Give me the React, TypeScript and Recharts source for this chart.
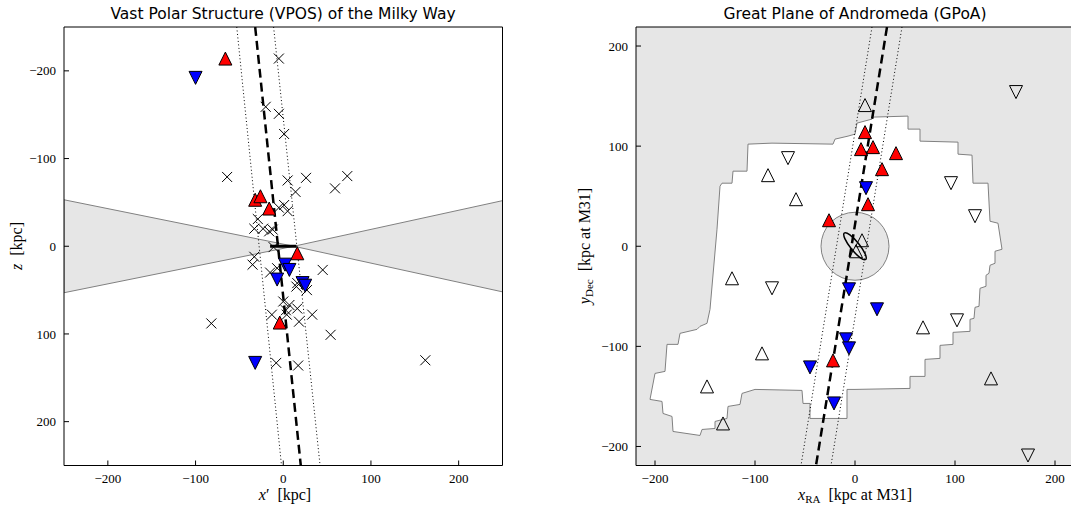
import React from 'react';
import {
  ComposedChart,
  Scatter,
  Line,
  Area,
  XAxis,
  YAxis,
  CartesianGrid,
} from 'recharts';

// ---------- Milky Way panel (x' vs z, kpc) ----------
const mwTicks = [-200, -100, 0, 100, 200];

// satellites on co-orbiting paths (red up triangles)
const mwCorotating = [
  { x: -66, y: -214 }, { x: -32, y: -53 }, { x: -26, y: -57 }, { x: -16, y: -43 },
  { x: 16, y: 8 }, { x: -4, y: 87 },
];

// satellites on counter-orbiting paths (blue down triangles)
const mwCounterRotating = [
  { x: -100, y: -192 }, { x: 2, y: 21 }, { x: 7, y: 27 }, { x: -7, y: 38 },
  { x: 22, y: 42 }, { x: 25, y: 45 }, { x: -32, y: 133 },
];

// satellites without proper motions (crosses)
const mwOthers = [
  { x: -5, y: -214 }, { x: -20, y: -159 }, { x: -5, y: -151 }, { x: 1, y: -128 },
  { x: -64, y: -79 }, { x: 5, y: -75 }, { x: 26, y: -78 }, { x: 73, y: -80 },
  { x: 59, y: -66 }, { x: 14, y: -62 }, { x: -5, y: -44 }, { x: 1, y: -47 },
  { x: 5, y: -40 }, { x: -29, y: -31 }, { x: -33, y: -20 }, { x: -23, y: -20 },
  { x: -16, y: -17 }, { x: -12, y: -19 }, { x: -11, y: 1 }, { x: -33, y: 12 },
  { x: -35, y: 21 }, { x: -15, y: 30 }, { x: -7, y: 25 }, { x: 45, y: 27 },
  { x: 15, y: 46 }, { x: 27, y: 50 }, { x: 16, y: 42 }, { x: 0, y: 63 },
  { x: 7, y: 67 }, { x: 16, y: 71 }, { x: 3, y: 73 }, { x: -13, y: 78 },
  { x: 4, y: 78 }, { x: 18, y: 86 }, { x: 33, y: 78 }, { x: 54, y: 101 },
  { x: -82, y: 88 }, { x: -8, y: 133 }, { x: 17, y: 136 }, { x: 162, y: 130 },
];

// best-fit plane and its rms height, seen edge-on
const mwPlane = [{ x: -32, y: -250 }, { x: 20, y: 250 }];
const mwPlaneEdgeA = [{ x: -53, y: -250 }, { x: -2, y: 250 }];
const mwPlaneEdgeB = [{ x: -11, y: -250 }, { x: 42, y: 250 }];

// Galactic disk
const mwDisk = [{ x: -15, y: 0 }, { x: 15, y: 0 }];

// zone of avoidance, seen from the Sun (closed outline)
const mwObscured = [
  { x: -250, y: -53 }, { x: 12, y: 0 }, { x: 250, y: 52 }, { x: 250, y: -52 },
  { x: 12, y: 0 }, { x: -250, y: 53 }, { x: -250, y: -53 },
];

// ---------- Andromeda panel (x_RA vs y_Dec, kpc at M31) ----------
const m31Ticks = [-200, -100, 0, 100, 200];

const m31Corotating = [
  { x: 10, y: 114 }, { x: 6, y: 97 }, { x: 18, y: 99 }, { x: 41, y: 93 },
  { x: 27, y: 77 }, { x: 13, y: 42 }, { x: -26, y: 26 }, { x: -22, y: -114 },
];

const m31CounterRotating = [
  { x: 11, y: 58 }, { x: -6, y: -43 }, { x: 22, y: -63 }, { x: -9, y: -93 },
  { x: -6, y: -102 }, { x: -45, y: -121 }, { x: -21, y: -157 },
];

const m31OffPlaneUp = [
  { x: 10, y: 141 }, { x: -87, y: 71 }, { x: -59, y: 47 }, { x: 7, y: 6 },
  { x: 1, y: -5 }, { x: -123, y: -32 }, { x: -93, y: -107 }, { x: -148, y: -140 },
  { x: -132, y: -177 }, { x: 68, y: -81 }, { x: 136, y: -132 },
];

const m31OffPlaneDown = [
  { x: -67, y: 88 }, { x: 96, y: 63 }, { x: 120, y: 30 }, { x: 161, y: 154 },
  { x: -83, y: -42 }, { x: 102, y: -74 }, { x: 173, y: -209 },
];

const m31Plane = [{ x: 32, y: 219 }, { x: -39, y: -219 }];
const m31PlaneEdgeA = [{ x: 17, y: 219 }, { x: -54, y: -219 }];
const m31PlaneEdgeB = [{ x: 47, y: 219 }, { x: -24, y: -219 }];

const m31Centre = [{ x: 0, y: 0 }];

// PAndAS survey footprint (closed outline)
const pandasFootprint = [
  { x: -107, y: 102 }, { x: -83, y: 103 }, { x: -22, y: 102 }, { x: -20, y: 107 },
  { x: -7, y: 110 }, { x: 0, y: 112 }, { x: 2, y: 123 }, { x: 17, y: 127 },
  { x: 18, y: 129 }, { x: 53, y: 130 }, { x: 53, y: 117 }, { x: 65, y: 117 },
  { x: 65, y: 105 }, { x: 103, y: 104 }, { x: 103, y: 92 }, { x: 117, y: 91 },
  { x: 118, y: 63 }, { x: 133, y: 63 }, { x: 135, y: 25 }, { x: 143, y: 23 },
  { x: 147, y: -3 }, { x: 140, y: -5 }, { x: 140, y: -17 }, { x: 135, y: -19 },
  { x: 134, y: -27 }, { x: 131, y: -29 }, { x: 131, y: -40 }, { x: 125, y: -42 },
  { x: 124, y: -60 }, { x: 120, y: -61 }, { x: 119, y: -72 }, { x: 115, y: -73 },
  { x: 115, y: -85 }, { x: 98, y: -86 }, { x: 98, y: -98 }, { x: 85, y: -99 },
  { x: 85, y: -112 }, { x: 70, y: -113 }, { x: 70, y: -130 }, { x: 55, y: -130 },
  { x: 55, y: -142 }, { x: 0, y: -143 }, { x: -8, y: -143 }, { x: -8, y: -172 },
  { x: -45, y: -172 }, { x: -45, y: -157 }, { x: -52, y: -157 }, { x: -53, y: -144 },
  { x: -100, y: -143 }, { x: -113, y: -147 }, { x: -115, y: -158 }, { x: -127, y: -160 },
  { x: -128, y: -172 }, { x: -140, y: -175 }, { x: -140, y: -182 }, { x: -153, y: -183 },
  { x: -155, y: -189 }, { x: -182, y: -185 }, { x: -183, y: -170 }, { x: -192, y: -167 },
  { x: -193, y: -155 }, { x: -205, y: -153 }, { x: -200, y: -127 }, { x: -190, y: -125 },
  { x: -188, y: -98 }, { x: -177, y: -98 }, { x: -175, y: -87 }, { x: -158, y: -83 },
  { x: -155, y: -80 }, { x: -148, y: -77 }, { x: -145, y: -63 }, { x: -138, y: 17 },
  { x: -135, y: 60 }, { x: -133, y: 63 }, { x: -123, y: 63 }, { x: -122, y: 75 },
  { x: -108, y: 75 }, { x: -107, y: 102 },
];

// ---------- shared styling ----------
const GREY = '#e6e6e6';
const EDGE = '#808080';
const serif = '"Liberation Serif", "DejaVu Serif", serif';
const tickStyle = { fontFamily: serif, fontSize: 13, fill: '#000' };
const fmt = (v: number) => String(v).replace('-', '\u2212');

const HALF = 6.5;

const TriUp = ({ cx, cy, fill }: any) => (
  <path
    d={`M${cx},${cy - HALF}L${cx - HALF},${cy + HALF}L${cx + HALF},${cy + HALF}Z`}
    fill={fill}
    stroke="#000"
    strokeWidth={1}
  />
);

const TriDown = ({ cx, cy, fill }: any) => (
  <path
    d={`M${cx},${cy + HALF}L${cx - HALF},${cy - HALF}L${cx + HALF},${cy - HALF}Z`}
    fill={fill}
    stroke="#000"
    strokeWidth={1}
  />
);

const Cross = ({ cx, cy }: any) => (
  <path
    d={`M${cx - 5},${cy - 5}L${cx + 5},${cy + 5}M${cx - 5},${cy + 5}L${cx + 5},${cy - 5}`}
    stroke="#000"
    strokeWidth={1}
    fill="none"
  />
);

// grey 35 kpc disc around M31 (radius in px, 1 kpc = 1 px here)
const M31Halo = ({ cx, cy }: any) => (
  <circle cx={cx} cy={cy} r={34} fill={GREY} stroke={EDGE} strokeWidth={1} />
);

const M31Disk = ({ cx, cy }: any) => (
  <ellipse
    cx={cx}
    cy={cy}
    rx={17}
    ry={4.5}
    transform={`rotate(51 ${cx} ${cy})`}
    fill="none"
    stroke="#000"
    strokeWidth={1.5}
  />
);

const noDot = () => <g />;
const dotted = { stroke: '#000', strokeWidth: 1, strokeDasharray: '1 2.5', fill: 'none' };
const dashed = { stroke: '#000', strokeWidth: 2.5, strokeDasharray: '9 5', fill: 'none' };

function frameAxes(domain: [number, number], ticks: number[], reversedY: boolean, yWidth: number) {
  return [
    <XAxis
      key="xb"
      dataKey="x"
      type="number"
      domain={domain}
      ticks={ticks}
      allowDataOverflow
      height={40}
      stroke="#000"
      tickSize={-5}
      tickMargin={13}
      tick={tickStyle}
      tickFormatter={fmt}
    />,
    <XAxis
      key="xt"
      xAxisId="top"
      orientation="top"
      dataKey="x"
      type="number"
      domain={domain}
      ticks={ticks}
      allowDataOverflow
      height={1}
      stroke="#000"
      tickSize={-5}
      tick={false}
    />,
    <YAxis
      key="yl"
      dataKey="y"
      type="number"
      domain={domain}
      ticks={ticks}
      reversed={reversedY}
      allowDataOverflow
      width={yWidth}
      stroke="#000"
      tickSize={-5}
      tickMargin={13}
      tick={tickStyle}
      tickFormatter={fmt}
    />,
    <YAxis
      key="yr"
      yAxisId="right"
      orientation="right"
      dataKey="y"
      type="number"
      domain={domain}
      ticks={ticks}
      reversed={reversedY}
      allowDataOverflow
      width={1}
      stroke="#000"
      tickSize={-5}
      tick={false}
    />,
  ];
}

function MilkyWayPanel() {
  return (
    <ComposedChart width={540} height={507} margin={{ top: 26, right: 36.5, bottom: 1.5, left: 24 }}>
      <Area
        data={mwObscured}
        dataKey="y"
        type="linear"
        fill={GREY}
        fillOpacity={1}
        stroke={EDGE}
        strokeWidth={1}
        isAnimationActive={false}
      />
      <Line data={mwPlaneEdgeA} dataKey="y" {...dotted} dot={false} isAnimationActive={false} />
      <Line data={mwPlaneEdgeB} dataKey="y" {...dotted} dot={false} isAnimationActive={false} />
      <Line data={mwPlane} dataKey="y" {...dashed} dot={false} isAnimationActive={false} />
      <Line data={mwDisk} dataKey="y" stroke="#000" strokeWidth={3} dot={false} isAnimationActive={false} />
      <Scatter
        data={mwOthers}
        xAxisId="top"
        yAxisId="right"
        shape={(p: any) => <Cross cx={p.cx} cy={p.cy} />}
        isAnimationActive={false}
      />
      <Scatter data={mwCorotating} shape={(p: any) => <TriUp cx={p.cx} cy={p.cy} fill="#ff0000" />} isAnimationActive={false} />
      <Scatter data={mwCounterRotating} shape={(p: any) => <TriDown cx={p.cx} cy={p.cy} fill="#0000ff" />} isAnimationActive={false} />
      {frameAxes([-250, 250], mwTicks, true, 40)}
    </ComposedChart>
  );
}

function AndromedaPanel() {
  return (
    <ComposedChart width={540} height={507} margin={{ top: 26, right: 25, bottom: 1.5, left: 26 }}>
      <CartesianGrid fill={GREY} fillOpacity={1} horizontal={false} vertical={false} stroke="none" />
      <Area
        data={pandasFootprint}
        dataKey="y"
        type="linear"
        fill="#ffffff"
        fillOpacity={1}
        stroke={EDGE}
        strokeWidth={1}
        isAnimationActive={false}
      />
      <Scatter data={m31Centre} shape={(p: any) => <M31Halo cx={p.cx} cy={p.cy} />} isAnimationActive={false} />
      <Scatter data={m31PlaneEdgeA} line={dotted} lineType="joint" shape={noDot} isAnimationActive={false} />
      <Scatter data={m31PlaneEdgeB} line={dotted} lineType="joint" shape={noDot} isAnimationActive={false} />
      <Scatter data={m31Plane} line={dashed} lineType="joint" shape={noDot} isAnimationActive={false} />
      <Scatter data={m31Centre} shape={(p: any) => <M31Disk cx={p.cx} cy={p.cy} />} isAnimationActive={false} />
      <Scatter
        data={m31OffPlaneUp}
        xAxisId="top"
        yAxisId="right"
        shape={(p: any) => <TriUp cx={p.cx} cy={p.cy} fill="none" />}
        isAnimationActive={false}
      />
      <Scatter data={m31OffPlaneDown} shape={(p: any) => <TriDown cx={p.cx} cy={p.cy} fill="none" />} isAnimationActive={false} />
      <Scatter data={m31Corotating} shape={(p: any) => <TriUp cx={p.cx} cy={p.cy} fill="#ff0000" />} isAnimationActive={false} />
      <Scatter data={m31CounterRotating} shape={(p: any) => <TriDown cx={p.cx} cy={p.cy} fill="#0000ff" />} isAnimationActive={false} />
      {frameAxes([-219, 219], m31Ticks, false, 50)}
    </ComposedChart>
  );
}

export default function App() {
  const titleFont = { fontFamily: '"DejaVu Sans", sans-serif', fontSize: 15.5 };
  const labelFont = { fontFamily: serif, fontSize: 16 };
  return (
    <div style={{ position: 'absolute', left: 0, top: 0, width: 1071, height: 507, overflow: 'hidden', background: '#fff' }}>
      <div style={{ position: 'absolute', left: 0, top: 0 }}>
        <MilkyWayPanel />
      </div>
      <div style={{ position: 'absolute', left: 560, top: 0, width: 511, height: 507, overflow: 'hidden' }}>
        <AndromedaPanel />
      </div>
      <svg width={1071} height={507} style={{ position: 'absolute', left: 0, top: 0, pointerEvents: 'none' }}>
        <text x={283} y={19} textAnchor="middle" style={titleFont}>Vast Polar Structure (VPOS) of the Milky Way</text>
        <text x={855} y={19} textAnchor="middle" style={titleFont}>Great Plane of Andromeda (GPoA)</text>

        <text x={285} y={500} textAnchor="middle" style={labelFont}>
          <tspan fontStyle="italic">x</tspan>
          <tspan>{'\u2032\u2002[kpc]'}</tspan>
        </text>
        <text transform="translate(22,246) rotate(-90)" textAnchor="middle" style={labelFont}>
          <tspan fontStyle="italic">z</tspan>
          <tspan>{'\u2002[kpc]'}</tspan>
        </text>

        <text x={855} y={500} textAnchor="middle" style={labelFont}>
          <tspan fontStyle="italic">x</tspan>
          <tspan fontSize={11} dy={3}>RA</tspan>
          <tspan dy={-3}>{'\u2002[kpc at M31]'}</tspan>
        </text>
        <text transform="translate(590,246) rotate(-90)" textAnchor="middle" style={labelFont}>
          <tspan fontStyle="italic">y</tspan>
          <tspan fontSize={11} dy={3}>Dec</tspan>
          <tspan dy={-3}>{'\u2002[kpc at M31]'}</tspan>
        </text>
      </svg>
    </div>
  );
}
